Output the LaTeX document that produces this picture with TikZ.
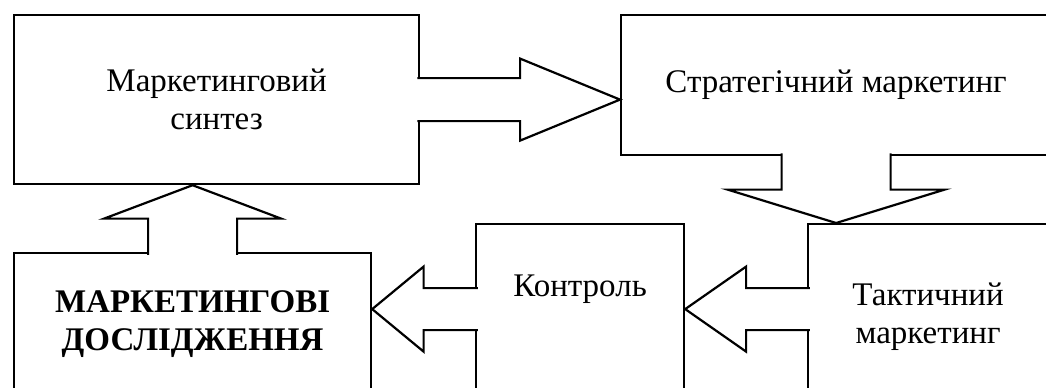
\documentclass[tikz,border=0pt]{standalone}
\usepackage{fontspec}
\setmainfont{Liberation Serif}
\usetikzlibrary{calc}

\begin{document}
\begin{tikzpicture}
  [x=0.5pt, y=-0.5pt,
    every node/.style={font=\fontsize{16.5}{19}\selectfont}]

  \tikzset{
    box/.style={
      draw=black, line width=1.1pt,
      rectangle, align=center,
      anchor=north west,
      inner sep=0pt,
    },
    blockarrow/.style={
      draw=black, line width=1.1pt,
      fill=white, line join=miter,
    },
  }

  \useasboundingbox (0,0) rectangle (1046,387);
  \clip (0,0) rectangle (1046,387);

  \node[box, minimum width=202.5pt, minimum height=84.5pt] (synth) at (13,14)
    {\fontsize{16.5}{20}\selectfont Маркетинговий\\синтез};
  \node[box, minimum width=215pt, minimum height=70pt] (strat) at (620,14)
    {Стратегічний маркетинг};
  \node[box, minimum width=120pt, minimum height=93pt] (tact) at (807,223)
    {Тактичний\\маркетинг};
  \node[box, minimum width=104pt, text height=36pt, text depth=49pt] (ctrl) at (475,223)
    {Контроль};
  \node[box, minimum width=178.5pt, minimum height=71pt] (research) at (13,252)
    {\bfseries МАРКЕТИНГОВІ\\\bfseries ДОСЛІДЖЕННЯ};

  % synth -> strat
  \draw[blockarrow]
    let \p1=(synth.east), \p2=(strat.west), \n1={(\x2-\x1)/2} in
    (\x1-1.4pt, \y1+10.75pt) -- (\x1+\n1, \y1+10.75pt) -- (\x1+\n1, \y1+20.5pt) --
    (\x2, \y1) --
    (\x1+\n1, \y1-20.5pt) -- (\x1+\n1, \y1-10.75pt) -- (\x1-1.4pt, \y1-10.75pt);

  % strat -> tact
  \draw[blockarrow]
    let \p1=(strat.south), \p2=(tact.north), \n1={(\y1-\y2)/2} in
    (\x1-27.25pt, \y1+1.4pt) -- (\x1-27.25pt, \y1-\n1) -- (\x1-54.25pt, \y1-\n1) --
    (\x1, \y2) --
    (\x1+54.25pt, \y1-\n1) -- (\x1+27.25pt, \y1-\n1) -- (\x1+27.25pt, \y1+1.4pt);

  % tact -> ctrl
  \draw[blockarrow]
    let \p1=(tact.west), \p2=(ctrl.east), \n1={(\x1-\x2)/2} in
    (\x1+1.4pt, \y2+10.5pt) -- (\x1-\n1, \y2+10.5pt) -- (\x1-\n1, \y2+21.25pt) --
    (\x2, \y2) --
    (\x1-\n1, \y2-21.25pt) -- (\x1-\n1, \y2-10.5pt) -- (\x1+1.4pt, \y2-10.5pt);

  % ctrl -> research
  \draw[blockarrow]
    let \p1=(ctrl.west), \p2=(research.east), \n1={(\x1-\x2)/2} in
    (\x1+1.4pt, \y1+10.5pt) -- (\x1-\n1, \y1+10.5pt) -- (\x1-\n1, \y1+21.25pt) --
    (\x2, \y1) --
    (\x1-\n1, \y1-21.25pt) -- (\x1-\n1, \y1-10.5pt) -- (\x1+1.4pt, \y1-10.5pt);

  % research -> synth
  \draw[blockarrow]
    let \p1=(research.north), \p2=(synth.south), \n1={(\y2-\y1)/2} in
    (\x1-22.25pt, \y1-1.4pt) -- (\x1-22.25pt, \y1+\n1) -- (\x1-44.25pt, \y1+\n1) --
    (\x1, \y2) --
    (\x1+44.25pt, \y1+\n1) -- (\x1+22.25pt, \y1+\n1) -- (\x1+22.25pt, \y1-1.4pt);
\end{tikzpicture}
\end{document}
